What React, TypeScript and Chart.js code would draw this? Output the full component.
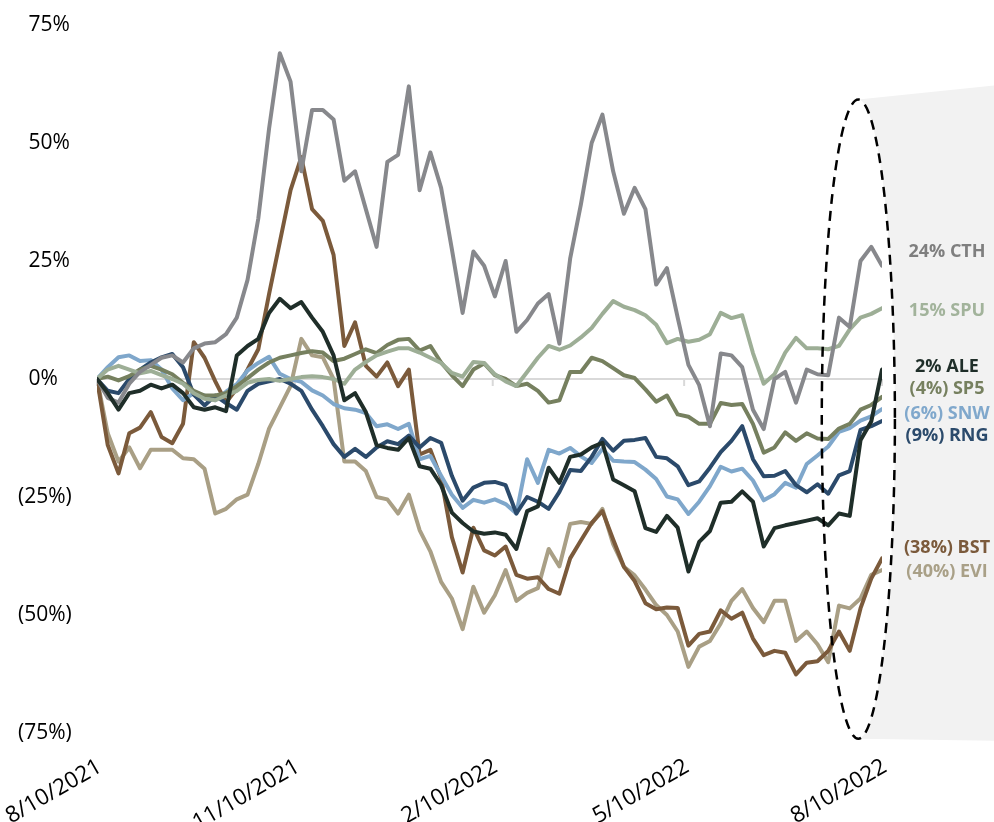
import React, { useEffect, useRef } from 'react';
import { Chart, registerables } from 'chart.js';

Chart.register(...registerables);

// Days since 8/10/2021
const DAYS = [0, 5, 10, 15, 20, 25, 30, 35, 40, 45, 50, 55, 60, 65, 70, 75, 80, 85, 90, 95, 100, 105, 110, 115, 120, 125, 130, 135, 140, 145, 150, 155, 160, 165, 170, 175, 180, 185, 190, 195, 200, 205, 210, 215, 220, 225, 230, 235, 240, 245, 250, 255, 260, 265, 270, 275, 280, 285, 290, 295, 300, 305, 310, 315, 320, 325, 330, 335, 340, 345, 350, 355, 360, 365];

const X_TICK_DAYS = [0, 92, 184, 273, 365];
const X_TICK_LABELS = ['8/10/2021', '11/10/2021', '2/10/2022', '5/10/2022', '8/10/2022'];
const Y_TICKS = [75, 50, 25, 0, -25, -50, -75];

const CTH = [
  0, -4, -5, -1, 1.5, 3, 4.5, 5, 3.5, 6.5,
  7.5, 7.8, 9.5, 13, 21, 34, 53, 69, 63, 44,
  57, 57, 55, 42, 44, 36, 28, 46, 47.5, 62,
  40, 48, 40.5, 27.5, 14, 27, 24, 17.5, 25, 10,
  12.5, 16, 18, 7.5, 25.5, 37, 50, 56, 44, 35,
  40.5, 36, 20, 23.5, 13, 3, -1.3, -10, 5.4, 5,
  2.5, -6.5, -10.6, 0, 1.5, -5, 2, 1, 0.8, 13,
  11, 25, 28, 24,
];
const SPU = [
  0, 2, 2.8, 2, 1.2, 1.7, 0.8, 0, -1, -3,
  -4.2, -4.5, -3.5, -2.5, -0.8, -0.2, 0, -0.4, 0, 0.4,
  0.6, 0.4, 0, -1, 2, 3.6, 5, 5.8, 6.5, 6.5,
  5.6, 4.5, 3.4, 1.3, 0.5, 3.6, 3.4, 1, -0.5, -1.5,
  1.5, 4.5, 7, 6.2, 7.1, 8.8, 10.8, 13.8, 16.5, 15.3,
  14.6, 13.5, 11.5, 7.6, 8.5, 7.9, 8.3, 9.5, 14, 12.9,
  13.5, 5.5, -1, 1, 5.6, 8.7, 6.5, 6.5, 6.3, 7,
  10.5, 13, 13.8, 15,
];
const ALE = [
  0, -3, -6.5, -3, -2.5, -1.2, -2, -1.2, -3, -6,
  -6.5, -6, -6.8, 5, 7, 8.5, 14, 17, 15, 16.3,
  13, 10, 5, -4.5, -3, -7, -14, -14.6, -15, -12.5,
  -18.5, -19, -22.5, -28.3, -30.5, -32.3, -32.8, -32.5, -33, -36,
  -28, -27, -18.8, -22, -16.5, -16, -14.5, -13.5, -21.3, -22.5,
  -23.8, -31.6, -32.4, -29, -31.5, -40.8, -34.5, -32.2, -26.2, -26,
  -23.8, -26, -35.5, -31.6, -31, -30.5, -30, -29.5, -31, -28.5,
  -29, -13, -9, 2,
];
const SP5 = [
  0, 0.5, -0.3, 0.6, 2, 2.8, 2, 1, -0.8, -2.5,
  -3.5, -3.5, -3, -1.5, 0.2, 2, 3.5, 4.5, 5, 5.5,
  5.9, 5.6, 3.8, 4.3, 5.3, 6.3, 5.5, 7.2, 8.3, 8.5,
  6, 7, 3.5, 0.8, -1.5, 2, 3.3, 0.8, 0, -1.5,
  -1, -2.5, -5, -4.5, 1.5, 1.5, 4.5, 3.8, 2.3, 0.8,
  0.2, -2.2, -4.8, -3.5, -7.5, -8, -9.5, -9.5, -5.1, -5.5,
  -5.3, -9.5, -15.6, -14.5, -11.3, -13.1, -11.5, -12.6, -12.7, -10.5,
  -9.5, -6.5, -5.5, -3.8,
];
const SNW = [
  0, 2.5, 4.6, 5, 3.8, 4, 2, -2, -4.5, -3,
  -3.5, -4.5, -2.7, -1.1, 1.8, 3.4, 4.7, 1.1, 0, -0.6,
  -2.4, -3.5, -5.3, -6.2, -6.5, -7.2, -10, -9.6, -10.6, -9.5,
  -17, -16.3, -20.5, -24.5, -27.3, -25.6, -26.2, -25.5, -26.5, -28.5,
  -17, -22, -15, -15.8, -14.6, -16.4, -17.8, -14.8, -17.3, -17.5,
  -17.6, -19.2, -21.2, -24.9, -25.5, -28.6, -26, -22.7, -18.6, -19.6,
  -19, -21.5, -25.7, -24.4, -22, -23, -18, -16.2, -14.3, -11.2,
  -10.4, -8.8, -7.9, -6.4,
];
const RNG = [
  0, -2.5, -3, 0, 2, 3.5, 4.6, 5.3, 2.5, -3.3,
  -5.6, -3.5, -5.1, -6.5, -2.5, -1, -0.5, 0, -1, -2.5,
  -6.5, -10, -13.8, -16.5, -14.8, -16.5, -14.5, -13.2, -13.8, -12,
  -14.5, -12.5, -13.5, -20.5, -25.8, -23, -22, -21.8, -22.5, -28.5,
  -25, -26, -27.5, -23.9, -19.3, -19.5, -16.5, -12.7, -15.2, -13.1,
  -12.9, -12.5, -16.5, -16.8, -18.5, -22.5, -21.7, -18.8, -15.5, -13.1,
  -10, -17, -20.6, -20.5, -19.5, -22.5, -24, -22.3, -24.3, -20.4,
  -19.5, -10.8, -10, -8.9,
];
const BST = [
  0, -14, -20, -11.5, -10.3, -7, -12.3, -13.6, -9.5, 7.8,
  4.5, -0.5, -5, -2, 2, 6.3, 18, 29, 40, 47,
  36, 33.5, 26.3, 7, 12, 2.8, 0.5, 3.5, -1.5, 2,
  -16, -15, -21, -33.5, -41, -31.5, -36.3, -37.4, -35.5, -41.5,
  -42.3, -42, -44.5, -45.5, -38, -34.2, -30.5, -28, -34, -39.8,
  -42.8, -47.5, -48.8, -48.4, -48.5, -56.5, -54, -53.5, -49, -50.8,
  -49.5, -55, -58.5, -57.6, -58, -62.6, -60.1, -59.8, -57.6, -53.5,
  -57.6, -48.6, -42.3, -38,
];
const EVI = [
  0, -11.5, -17.5, -14.5, -18.9, -15, -15, -15, -16.8, -17,
  -19, -28.5, -27.5, -25.5, -24.5, -18, -10.5, -6, -1.5, 8.5,
  5, 4.6, 0, -17.5, -17.5, -19.5, -25, -25.5, -28.5, -24.5,
  -32, -36.5, -43, -46.5, -53, -44, -49.5, -45.8, -40.5, -47,
  -45.3, -44.3, -36, -39.7, -30.7, -30.3, -30.7, -27.5, -35, -39.8,
  -41.6, -44.6, -47.9, -50, -53.5, -61, -56.7, -55.5, -51.8, -47,
  -44.5, -48.5, -51.5, -47, -47, -55.5, -53.5, -56.2, -60, -48,
  -48.6, -46.5, -41.5, -40.5,
];

const SERIES = [
  { name: 'CTH', data: CTH, color: '#87888c', labelColor: '#7f7f7f', label: '24% CTH', labelAt: 27, order: 1 },
  { name: 'SPU', data: SPU, color: '#9dae96', labelColor: '#a2b39b', label: '15% SPU', labelAt: 14.4, order: 2 },
  { name: 'ALE', data: ALE, color: '#1f2e29', labelColor: '#1f2e29', label: '2% ALE', labelAt: 2.5, order: 0 },
  { name: 'SP5', data: SP5, color: '#76805f', labelColor: '#76805f', label: '(4%) SP5', labelAt: -2.1, order: 3 },
  { name: 'SNW', data: SNW, color: '#7fa7cb', labelColor: '#80a8cc', label: '(6%) SNW', labelAt: -7.4, order: 5 },
  { name: 'RNG', data: RNG, color: '#2b4a6b', labelColor: '#2b4a6b', label: '(9%) RNG', labelAt: -12, order: 4 },
  { name: 'BST', data: BST, color: '#7b5a3b', labelColor: '#7b5a3b', label: '(38%) BST', labelAt: -35.8, order: 6 },
  { name: 'EVI', data: EVI, color: '#a99f85', labelColor: '#a9a087', label: '(40%) EVI', labelAt: -40.9, order: 7 },
];

// Highlight oval (center day, half-width days, center %, half-height %)
const OVAL = { day: 354, halfDays: 17, pct: -8.5, halfPct: 67.7 };

function ovalPixels(chart: any) {
  const x = chart.scales.x;
  const y = chart.scales.y;
  const cx = x.getPixelForValue(OVAL.day);
  const rx = x.getPixelForValue(OVAL.day + OVAL.halfDays) - cx;
  const cy = y.getPixelForValue(OVAL.pct);
  const ry = cy - y.getPixelForValue(OVAL.pct + OVAL.halfPct);
  return { cx, cy, rx, ry };
}

const annotations = {
  id: 'annotations',
  beforeDatasetsDraw(chart: any) {
    const { ctx, scales } = chart;
    const x = scales.x;
    const y = scales.y;
    const { cx, cy, rx, ry } = ovalPixels(chart);
    ctx.save();
    ctx.fillStyle = '#f2f2f2';
    ctx.beginPath();
    ctx.moveTo(cx, cy - ry);
    ctx.lineTo(chart.width, cy - ry - 14);
    ctx.lineTo(chart.width, cy + ry + 2);
    ctx.lineTo(cx, cy + ry);
    ctx.ellipse(cx, cy, rx, ry, 0, Math.PI / 2, -Math.PI / 2, true);
    ctx.closePath();
    ctx.fill();
    // small tick marks on the zero line
    const y0 = y.getPixelForValue(0);
    ctx.strokeStyle = '#d9d9d9';
    ctx.lineWidth = 2;
    X_TICK_DAYS.forEach((d) => {
      const px = x.getPixelForValue(d);
      ctx.beginPath();
      ctx.moveTo(px, y0);
      ctx.lineTo(px, y0 + 7);
      ctx.stroke();
    });
    ctx.restore();
  },
  afterDatasetsDraw(chart: any) {
    const { ctx, scales, chartArea } = chart;
    const x = scales.x;
    const y = scales.y;
    const { cx, cy, rx, ry } = ovalPixels(chart);
    ctx.save();
    ctx.strokeStyle = '#000000';
    ctx.lineWidth = 2.5;
    ctx.setLineDash([10, 7]);
    ctx.beginPath();
    ctx.ellipse(cx, cy, rx, ry, 0, 0, Math.PI * 2);
    ctx.stroke();
    ctx.setLineDash([]);
    // end labels
    ctx.font = 'bold 18px "Open Sans"';
    ctx.textAlign = 'center';
    ctx.textBaseline = 'middle';
    SERIES.forEach((s) => {
      ctx.fillStyle = s.labelColor;
      ctx.fillText(s.label, chartArea.right + 65, y.getPixelForValue(s.labelAt));
    });
    // rotated date labels
    ctx.font = '22.5px "Open Sans"';
    ctx.fillStyle = '#000000';
    ctx.textAlign = 'right';
    ctx.textBaseline = 'middle';
    X_TICK_DAYS.forEach((d, i) => {
      ctx.save();
      ctx.translate(x.getPixelForValue(d) + 3, chartArea.bottom + 32);
      ctx.rotate(-Math.PI / 6);
      ctx.fillText(X_TICK_LABELS[i], 0, 0);
      ctx.restore();
    });
    ctx.restore();
  },
};

export default function App() {
  const canvasRef = useRef<HTMLCanvasElement | null>(null);

  useEffect(() => {
    document.body.style.margin = '0';
    const canvas = canvasRef.current;
    if (!canvas) return;
    const chart = new Chart(canvas, {
      type: 'line',
      data: {
        datasets: SERIES.map((s) => ({
          label: s.name,
          data: DAYS.map((d, i) => ({ x: d, y: s.data[i] })),
          borderColor: s.color,
          backgroundColor: s.color,
          borderWidth: 4,
          pointRadius: 0,
          tension: 0,
          borderJoinStyle: 'round' as const,
          borderCapStyle: 'round' as const,
          order: s.order,
        })),
      },
      options: {
        responsive: false,
        animation: false,
        devicePixelRatio: 1,
        layout: { padding: { left: 18, right: 112, top: 25, bottom: 0 } },
        plugins: {
          legend: { display: false },
          tooltip: { enabled: false },
        },
        scales: {
          x: {
            type: 'linear',
            min: 0,
            max: 365,
            afterBuildTicks: (scale: any) => {
              scale.ticks = X_TICK_DAYS.map((v) => ({ value: v }));
            },
            afterFit: (scale: any) => {
              scale.height = 89;
              scale.paddingLeft = 0;
              scale.paddingRight = 0;
            },
            grid: { display: false, drawTicks: false },
            border: { display: false },
            ticks: { display: false },
          },
          y: {
            type: 'linear',
            min: -75,
            max: 75,
            afterBuildTicks: (scale: any) => {
              scale.ticks = Y_TICKS.map((v) => ({ value: v }));
            },
            afterFit: (scale: any) => {
              scale.width = 79;
            },
            grid: {
              drawTicks: false,
              lineWidth: 2,
              color: (c: any) => (c.tick && c.tick.value === 0 ? '#d9d9d9' : 'rgba(0,0,0,0)'),
            },
            border: { display: false },
            ticks: {
              crossAlign: 'far',
              color: '#000000',
              font: { family: '"Open Sans"', size: 21 },
              callback: (value: any) => {
                const v = Number(value);
                return v >= 0 ? '\u2002' + v + '%' : '(' + Math.abs(v) + '%)';
              },
            },
          },
        },
      },
      plugins: [annotations],
    });
    return () => chart.destroy();
  }, []);

  return <canvas ref={canvasRef} width={994} height={822} style={{ display: 'block' }} />;
}
